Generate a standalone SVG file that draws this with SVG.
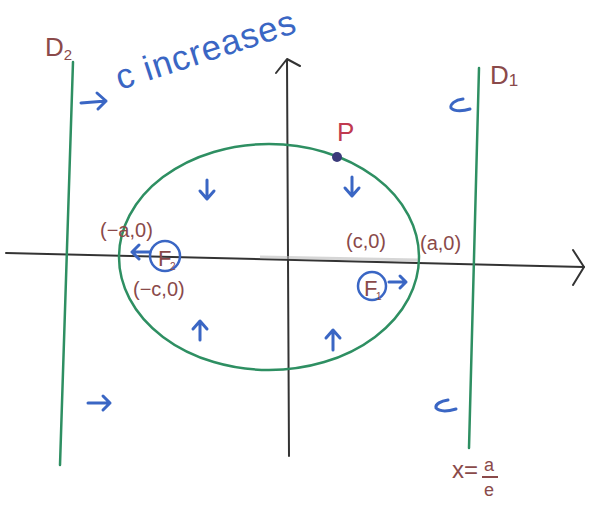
<svg xmlns="http://www.w3.org/2000/svg" width="604" height="506" viewBox="0 0 604 506">
<style>
.ax{stroke:#333;stroke-width:2;fill:none;stroke-linecap:round;stroke-linejoin:round}
.gr{stroke:#2e8f62;stroke-width:2.5;fill:none;stroke-linecap:round}
.bl{stroke:#3a66c4;stroke-width:3;fill:none;stroke-linecap:round;stroke-linejoin:round}
.br{fill:#8a4a4a;font-family:"Liberation Sans",sans-serif}
.bt{fill:#3a66c4;font-family:"Liberation Sans",sans-serif}
</style>
<rect width="604" height="506" fill="#fff"/>
<!-- axes -->
<path class="ax" d="M6 253 L584 267"/>
<path class="ax" d="M573 250 L584 267 L573 285"/>
<path class="ax" d="M287 60 L289 456"/>
<path class="ax" d="M276 73 L287 59 L300 66"/>
<!-- directrices -->
<path class="gr" d="M73 62 L60 465"/>
<path class="gr" d="M479 68 L469 448"/>
<!-- ellipse -->
<ellipse class="gr" cx="269" cy="257" rx="150" ry="113"/>
<!-- labels -->
<text class="br" x="45" y="56" font-size="26">D<tspan font-size="15" dy="4">2</tspan></text>
<text class="br" x="490" y="84" font-size="26">D<tspan font-size="17" dy="2">1</tspan></text>
<g transform="rotate(-18 120 90)">
<text class="bt" x="120" y="90" font-size="35" letter-spacing="1">c increases</text>
</g>
<path class="bl" d="M81 103 L106 101 M97 93 L106 101 L98 109"/>
<text class="br" x="337" y="141" font-size="26" style="fill:#c03a50">P</text>
<circle cx="337" cy="157" r="5" fill="#3a3a7a"/>
<!-- arrows inside -->
<path class="bl" d="M207 180 L207 198 M200 191 L207 199 L214 191"/>
<path class="bl" d="M352 177 L352 195 M345 188 L352 196 L359 188"/>
<path class="bl" d="M200 340 L200 322 M193 329 L200 321 L207 329"/>
<path class="bl" d="M333 350 L333 331 M326 338 L333 330 L340 338"/>
<path class="bl" d="M463 99 C455 100 450 104 451 108 C455 112 464 111 470 109"/>
<path class="bl" d="M448 400 C441 401 435 404 436 408 C440 412 449 411 456 409"/>
<path class="bl" d="M88 403 L110 403 M103 396 L110 403 L103 410"/>
<!-- foci -->
<circle cx="165" cy="256" r="15" class="bl" style="stroke-width:2.5"/>
<text x="158" y="266" font-size="22" fill="#8a4a4a" font-family="Liberation Sans,sans-serif">F</text>
<text x="170" y="270" font-size="10" fill="#8a4a4a" font-family="Liberation Sans,sans-serif">2</text>
<path class="bl" d="M150 252 L132 252 M139 245 L132 252 L139 259"/>
<text class="br" x="100" y="237" font-size="20">(−a,0)</text>
<text class="br" x="133" y="296" font-size="20">(−c,0)</text>
<circle cx="372" cy="286" r="14" class="bl" style="stroke-width:2.5"/>
<text x="364" y="296" font-size="22" fill="#8a4a4a" font-family="Liberation Sans,sans-serif">F</text>
<text x="376" y="300" font-size="10" fill="#8a4a4a" font-family="Liberation Sans,sans-serif">1</text>
<path class="bl" d="M389 282 L406 282 M400 276 L406 282 L400 288"/>
<text class="br" x="346" y="248" font-size="20">(c,0)</text>
<text class="br" x="420" y="250" font-size="20">(a,0)</text>
<path d="M260 257 L418 260" stroke="#bbb" stroke-width="3" opacity="0.6"/>
<!-- x = a/e -->
<text class="br" x="452" y="478" font-size="24">x=</text>
<text class="br" x="484" y="471" font-size="18">a</text>
<path d="M482 477 L498 477" stroke="#8a4a4a" stroke-width="2"/>
<text class="br" x="484" y="496" font-size="18">e</text>
</svg>
